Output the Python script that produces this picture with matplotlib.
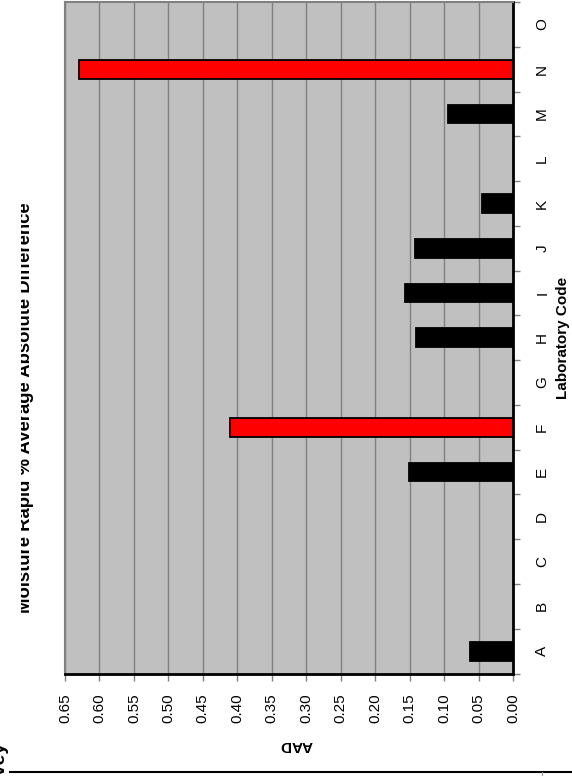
import matplotlib
matplotlib.use("Agg")
import matplotlib.pyplot as plt
import numpy as np
from matplotlib.transforms import Bbox, TransformedBbox
from matplotlib.lines import Line2D

plt.rcParams['font.family'] = ['Liberation Sans', 'DejaVu Sans']

# ---- data ----
labs = ["A", "B", "C", "D", "E", "F", "G", "H", "I", "J", "K", "L", "M", "N", "O"]
aad = [0.063, None, None, None, 0.151, 0.411, None, 0.141, 0.157, 0.142, 0.045, None, 0.094, 0.629, None]
flagged = ["F", "N"]
value_ticks = [0.00, 0.05, 0.10, 0.15, 0.20, 0.25, 0.30, 0.35, 0.40, 0.45, 0.50, 0.55, 0.60, 0.65]
title = "Moisture Rapid % Average Absolute Difference"
xlab = "Laboratory Code"
ylab = "AAD"

W, H = 572, 776
fig = plt.figure(figsize=(W / 100, H / 100), dpi=100)
fx = lambda x: x / W
fy = lambda y: 1 - y / H

L, R, T, B = 65, 513, 2, 673.5
ax = fig.add_axes([fx(L), fy(B), fx(R) - fx(L), (B - T) / H])
ax.set_facecolor('#C0C0C0')

pos = np.arange(len(labs))
for p, lab, v in zip(pos, labs, aad):
    if v is None:
        continue
    col = '#FF0000' if lab in flagged else '#000000'
    ax.barh(p, v, height=0.42, color=col, edgecolor='black', linewidth=1.3, zorder=3)

ax.set_xlim(0.65, 0.0)
ax.set_ylim(-0.5, len(labs) - 0.5)

for v in value_ticks:
    ax.axvline(v, color='#808080', lw=1.0, zorder=1)

ax.set_xticks(value_ticks)
ax.set_xticklabels([f"{v:.2f}" for v in value_ticks], rotation=90, fontsize=11)
ax.tick_params(axis='x', direction='out', length=5, width=1, color='#808080', pad=9)

ax.yaxis.tick_right()
ax.set_yticks(pos)
ax.set_yticklabels(labs, rotation=90, fontsize=11, va='center')
ax.set_yticks(np.arange(-0.5, len(labs), 1.0), minor=True)
ax.tick_params(axis='y', which='major', length=0, pad=16)
ax.tick_params(axis='y', which='minor', direction='out', length=5, width=1, color='#808080')

for s in ['top', 'left']:
    ax.spines[s].set_color('#808080')
    ax.spines[s].set_linewidth(1.5)
for s in ['right', 'bottom']:
    ax.spines[s].set_color('black')
    ax.spines[s].set_linewidth(2)

# titles / labels (chart is rotated on the page)
t = fig.text(fx(30), fy(408), title, rotation=90, rotation_mode='anchor',
             ha='center', va='baseline', fontsize=13.3, fontweight='bold')
t.set_clip_box(TransformedBbox(Bbox([[fx(20.7), 0], [1, 1]]), fig.transFigure))
t.set_clip_on(True)

fig.text(fx(563), fy(338), xlab, rotation=90, ha='center', va='center',
         fontsize=11, fontweight='bold')
fig.text(fx(296), fy(745), ylab, rotation=180, ha='center', va='center',
         fontsize=11, fontweight='bold')

# page fragments
fig.text(fx(8), fy(742), "Survey", rotation=90, ha='right', va='top',
         fontsize=14, fontweight='bold')
fig.add_artist(Line2D([fx(10), fx(572)], [fy(771.7), fy(771.7)], color='black', lw=1.5))
fig.add_artist(Line2D([fx(541.5), fx(541.5)], [fy(772), fy(776)], color='#999999', lw=0.8))

fig.savefig("out.png", dpi=100)
